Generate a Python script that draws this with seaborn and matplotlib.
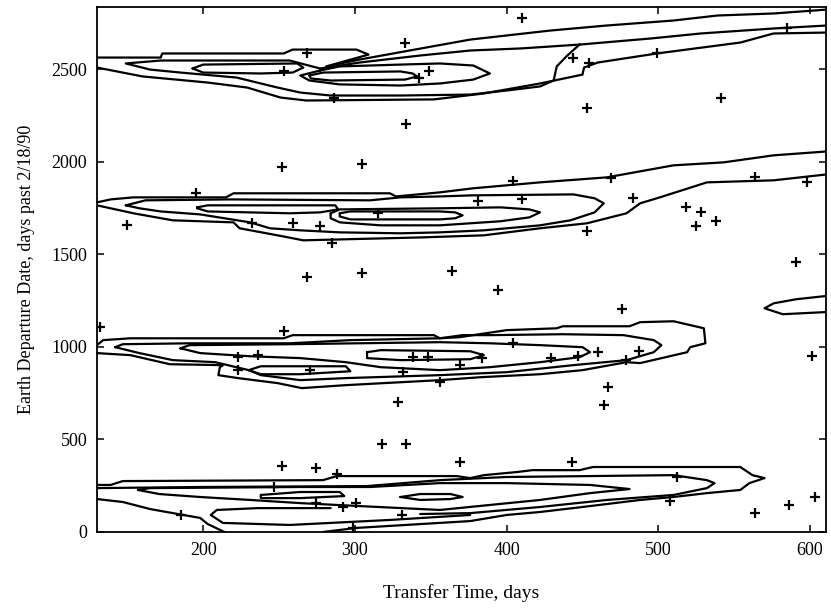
import matplotlib
matplotlib.use("Agg")
import matplotlib.pyplot as plt
import pandas as pd
import seaborn as sns

# ---------------- data ----------------
X_TICKS = [200, 300, 400, 500, 600]
Y_TICKS = [0, 500, 1000, 1500, 2000, 2500]

# top band (~2500)
TOP_OUT_UP_X = [130, 172, 173, 253, 259, 301, 309, 281, 303, 336, 376, 429, 466, 510, 539, 576, 611]
TOP_OUT_UP_Y = [2562, 2562, 2584, 2584, 2605, 2605, 2578, 2514, 2551, 2600, 2659, 2708, 2735, 2762, 2789, 2800, 2821]
TOP_OUT_LO_X = [130, 160, 203, 229, 251, 268, 352, 385, 422, 450, 451, 460, 499, 554, 576, 611]
TOP_OUT_LO_Y = [2508, 2460, 2427, 2400, 2346, 2330, 2336, 2368, 2422, 2470, 2508, 2535, 2584, 2643, 2692, 2697]
TOP_MID_X = [611, 576, 528, 495, 448, 409, 376, 343, 303, 277, 257, 172, 149, 165, 185, 222, 249, 264, 284, 330,
             376, 400, 422, 431, 433, 440, 448]
TOP_MID_Y = [2735, 2719, 2692, 2665, 2632, 2611, 2600, 2573, 2535, 2503, 2546, 2546, 2530, 2497, 2481, 2454, 2400,
             2373, 2357, 2357, 2362, 2384, 2406, 2438, 2514, 2573, 2632]
TOP_IN1_X = [193, 200, 262, 266, 259, 238, 200, 193]
TOP_IN1_Y = [2503, 2524, 2530, 2508, 2481, 2476, 2481, 2503]
TOP_IN2_X = [277, 290, 330, 356, 378, 389, 378, 356, 330, 290, 270, 264, 277]
TOP_IN2_Y = [2492, 2514, 2524, 2530, 2519, 2476, 2443, 2422, 2411, 2417, 2438, 2465, 2492]
TOP_IN3_X = [270, 279, 330, 338, 341, 333, 284, 271, 270]
TOP_IN3_Y = [2465, 2481, 2487, 2476, 2460, 2443, 2438, 2449, 2465]

# band ~1750
B3_OUT_UP_X = [130, 139, 154, 215, 220, 323, 327, 356, 378, 422, 466, 510, 543, 576, 611]
B3_OUT_UP_Y = [1780, 1796, 1807, 1807, 1829, 1829, 1812, 1834, 1856, 1888, 1915, 1980, 1996, 2034, 2055]
B3_OUT_LO_X = [130, 154, 180, 220, 224, 249, 266, 345, 385, 422, 453, 479, 488, 501, 532, 576, 611]
B3_OUT_LO_Y = [1764, 1721, 1683, 1672, 1640, 1602, 1575, 1591, 1602, 1640, 1667, 1721, 1775, 1807, 1888, 1899, 1931]
B3_C2_X = [149, 162, 218, 310, 330, 356, 378, 444, 458, 464, 458, 442, 422, 385, 356, 330, 290, 264, 244, 231,
           198, 172, 158, 149]
B3_C2_Y = [1764, 1791, 1796, 1791, 1807, 1812, 1818, 1823, 1802, 1775, 1726, 1683, 1656, 1629, 1618, 1613, 1618,
           1629, 1640, 1672, 1715, 1731, 1748, 1764]
B3_C1_X = [284, 290, 356, 396, 415, 422, 415, 396, 356, 317, 290, 284, 284]
B3_C1_Y = [1721, 1742, 1748, 1753, 1742, 1726, 1699, 1678, 1656, 1656, 1672, 1694, 1721]
B3_C0_X = [290, 297, 356, 366, 371, 366, 356, 297, 290, 290]
B3_C0_Y = [1721, 1731, 1731, 1726, 1710, 1694, 1688, 1688, 1704, 1721]
B3_SM_X = [196, 203, 287, 289, 277, 257, 203, 196, 196]
B3_SM_Y = [1753, 1764, 1764, 1742, 1726, 1721, 1731, 1748, 1753]

# band ~1000
B2_OUT_X = [130, 134, 152, 253, 259, 352, 356, 369, 400, 433, 437, 481, 488, 510, 530, 531, 521, 519, 488, 479,
            450, 422, 383, 356, 294, 265, 249, 223, 210, 211, 213, 178, 152, 130]
B2_OUT_Y = [1009, 1036, 1046, 1046, 1063, 1063, 1046, 1052, 1090, 1100, 1111, 1111, 1133, 1138, 1100, 1019, 998,
            971, 912, 917, 874, 852, 836, 820, 793, 777, 804, 831, 847, 890, 901, 906, 955, 966]
B2_C2_X = [142, 147, 191, 257, 297, 356, 371, 389, 437, 477, 497, 502, 497, 479, 444, 400, 356, 294, 264, 238,
           230, 208, 180, 158, 142]
B2_C2_Y = [998, 1014, 1019, 1019, 1036, 1046, 1063, 1063, 1068, 1063, 1036, 1009, 971, 928, 901, 863, 847, 831,
           820, 847, 874, 917, 928, 966, 998]
B2_C3_X = [185, 191, 257, 356, 389, 422, 450, 455, 448, 422, 389, 356, 317, 294, 264, 231, 198, 185]
B2_C3_Y = [992, 1009, 1014, 1025, 1019, 1009, 998, 971, 944, 917, 890, 874, 890, 917, 939, 949, 966, 992]
B2_C4_X = [308, 317, 376, 385, 376, 330, 308, 308]
B2_C4_Y = [971, 982, 976, 955, 933, 928, 939, 971]
B2_C5_X = [230, 238, 294, 297, 264, 238, 230]
B2_C5_Y = [874, 895, 895, 868, 852, 852, 874]

# small contour at right edge (~1220)
RIGHT_X = [612, 609, 591, 576, 570, 582, 609, 612]
RIGHT_Y = [1275, 1273, 1257, 1235, 1208, 1176, 1187, 1190]

# band ~200
B1_OUT_X = [130, 139, 147, 279, 288, 367, 376, 385, 407, 417, 448, 457, 554, 562, 570, 560, 554, 532, 510, 488,
            450, 422, 400, 376, 301, 279]
B1_OUT_Y = [254, 254, 275, 280, 302, 302, 291, 307, 324, 334, 334, 351, 351, 307, 291, 264, 227, 210, 189, 173,
            135, 108, 92, 59, 22, 0]
B1_LEFT_X = [130, 147, 165, 180, 198, 203, 214]
B1_LEFT_Y = [178, 162, 124, 102, 76, 43, 0]
B1_S1_X = [130, 198, 308, 356, 400, 510, 532, 537, 532, 510, 466, 422, 376, 343]
B1_S1_Y = [237, 243, 248, 280, 297, 307, 280, 264, 237, 200, 173, 135, 102, 97]
B1_T1_X = [157, 165, 264, 310, 356, 400, 455, 481, 455, 422, 389, 356, 303, 264, 231, 198, 171, 157]
B1_T1_Y = [227, 237, 243, 243, 264, 264, 254, 232, 210, 173, 146, 119, 140, 156, 173, 189, 205, 227]
B1_LOBE_X = [376, 323, 257, 213, 205, 209, 236, 284]
B1_LOBE_Y = [92, 65, 38, 49, 92, 119, 129, 129]
B1_C4_X = [330, 343, 363, 371, 363, 343, 330]
B1_C4_Y = [189, 205, 205, 189, 178, 173, 189]
B1_C5_X = [238, 264, 290, 293, 264, 238, 238]
B1_C5_Y = [200, 216, 216, 194, 183, 183, 200]

# "+" markers
PTS_X = [410, 585, 333, 268.5, 444, 454, 499, 349, 342, 286,
         541, 453, 334, 252, 305, 195, 404, 410, 469, 483,
         518, 528, 538, 525, 564, 598, 150, 232, 259, 277,
         285, 315, 453, 268.5, 305, 364, 394, 476, 591, 253,
         132, 223, 223, 236, 270.5, 332, 356, 369, 338, 348,
         384, 404, 429, 447, 460, 487, 479, 467, 464, 601,
         328.5, 318, 334, 369, 443, 252, 274.5, 288, 247, 274.5,
         301, 292, 331, 299, 185.5, 512, 508, 564, 586, 603,
         253, 381]
PTS_Y = [2778, 2719, 2638, 2584, 2562, 2530, 2584, 2487, 2454, 2341,
         2346, 2287, 2201, 1969, 1985, 1829, 1893, 1796, 1909, 1802,
         1753, 1726, 1678, 1651, 1915, 1888, 1656, 1667, 1667, 1651,
         1559, 1721, 1624, 1375, 1397, 1408, 1305, 1203, 1456, 1084,
         1106, 944, 874, 955, 874, 863, 809, 901, 944, 944,
         939, 1019, 939, 949, 971, 976, 928, 782, 685, 949,
         701, 475, 475, 378, 378, 356, 345, 313, 243, 156,
         156, 135, 92, 22, 92, 297, 167, 102, 146, 189,
         2492, 1785]

CONTOURS = [
    (TOP_OUT_UP_X, TOP_OUT_UP_Y), (TOP_OUT_LO_X, TOP_OUT_LO_Y), (TOP_MID_X, TOP_MID_Y),
    (TOP_IN1_X, TOP_IN1_Y), (TOP_IN2_X, TOP_IN2_Y), (TOP_IN3_X, TOP_IN3_Y),
    (B3_OUT_UP_X, B3_OUT_UP_Y), (B3_OUT_LO_X, B3_OUT_LO_Y), (B3_C2_X, B3_C2_Y),
    (B3_C1_X, B3_C1_Y), (B3_C0_X, B3_C0_Y), (B3_SM_X, B3_SM_Y),
    (B2_OUT_X, B2_OUT_Y), (B2_C2_X, B2_C2_Y), (B2_C3_X, B2_C3_Y), (B2_C4_X, B2_C4_Y), (B2_C5_X, B2_C5_Y),
    (RIGHT_X, RIGHT_Y),
    (B1_OUT_X, B1_OUT_Y), (B1_LEFT_X, B1_LEFT_Y), (B1_S1_X, B1_S1_Y), (B1_T1_X, B1_T1_Y),
    (B1_LOBE_X, B1_LOBE_Y), (B1_C4_X, B1_C4_Y), (B1_C5_X, B1_C5_Y),
]

rows = []
for cid, (xs, ys) in enumerate(CONTOURS):
    for i, (xv, yv) in enumerate(zip(xs, ys)):
        rows.append({"cid": cid, "order": i, "x": xv, "y": yv})
df_lines = pd.DataFrame(rows)
df_pts = pd.DataFrame({"x": PTS_X, "y": PTS_Y})

# ---------------- drawing ----------------
sns.set_theme(style="ticks")
plt.rcParams["font.family"] = ["Liberation Serif", "DejaVu Serif"]
plt.rcParams["axes.linewidth"] = 1.3

fig = plt.figure(figsize=(8.31, 6.08), dpi=100)
ax = fig.add_axes([0.1167, 0.125, 0.8773, 0.8635])

sns.lineplot(data=df_lines, x="x", y="y", units="cid", estimator=None, sort=False,
             color="black", linewidth=1.6, ax=ax, legend=False)
sns.scatterplot(data=df_pts, x="x", y="y", marker="+", s=50, color="black",
                linewidth=1.6, ax=ax, legend=False, zorder=3)

ax.set_xlim(130, 610.5)
ax.set_ylim(0, 2835)
ax.set_xticks(X_TICKS)
ax.set_yticks(Y_TICKS)
ax.tick_params(direction="in", top=True, right=True, length=5, width=1.1,
               labelsize=13, colors="black", pad=7)
for s in ax.spines.values():
    s.set_color("black")
ax.set_xlabel("Transfer Time, days", fontsize=14, labelpad=18, color="black")
ax.set_ylabel("Earth Departure Date, days past 2/18/90", fontsize=13, labelpad=12, color="black")

fig.savefig("out.png", dpi=100, facecolor="white")
